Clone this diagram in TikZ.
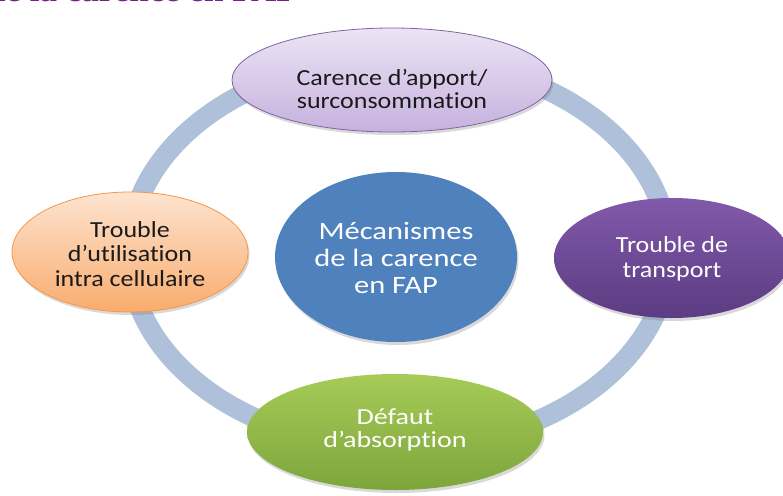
\documentclass[tikz,border=0pt]{standalone}
\usepackage{fontspec}
\setmainfont{Carlito}[Ligatures=CommonOff]
\newfontfamily\widefont[FakeStretch=1.13,Ligatures=CommonOff]{Carlito}
\newfontfamily\widerfont[FakeStretch=1.22,Ligatures=CommonOff]{Carlito}
\newfontfamily\titlefont{Liberation Serif}
\usetikzlibrary{shapes.geometric,shadows}
\definecolor{titlepurple}{HTML}{7A1E8C}
\definecolor{ringblue}{HTML}{AEC0DA}
\definecolor{lavtop}{HTML}{ECE4F5}
\definecolor{lavbot}{HTML}{C6B1DE}
\definecolor{lavedge}{HTML}{8064A2}
\definecolor{purtop}{HTML}{8159AA}
\definecolor{purbot}{HTML}{5C3C82}
\definecolor{peachtop}{HTML}{FDE4D0}
\definecolor{peachbot}{HTML}{F9AC6E}
\definecolor{peachedge}{HTML}{F79646}
\definecolor{greentop}{HTML}{A6CB57}
\definecolor{greenbot}{HTML}{7DA53B}
\definecolor{centreblue}{HTML}{4F81BD}
\definecolor{darktext}{HTML}{1A1A1A}
\begin{document}
\begin{tikzpicture}[x=1pt,y=-1pt,
  ring/.style={line width=20pt, draw=ringblue},
  bubble/.style={ellipse, inner sep=0pt,
    drop shadow={opacity=0.3, shadow xshift=1.5pt, shadow yshift=-3pt}},
  label text/.style={inner sep=0pt, align=center,
    font=\widefont\fontsize{23}{23.5}\selectfont},
]
\useasboundingbox (0,0) rectangle (783,495);
\clip (0,0) rectangle (783,495);
\node[anchor=base east, text=titlepurple, inner sep=0pt,
  font=\titlefont\bfseries\fontsize{35}{40}\selectfont] (title) at (298,1.2) {de la carence en FAP};
\draw[ring] (399,253) ellipse [x radius=270, y radius=195];
% shapes
\node[bubble, minimum width=242pt, minimum height=170pt, fill=centreblue] (centre) at (396,257) {};
\node[bubble, minimum width=320pt, minimum height=104pt, top color=lavtop,
  bottom color=lavbot, draw=lavedge, line width=0.8pt] (apport) at (392,80) {};
\node[bubble, minimum width=236pt, minimum height=120pt, top color=purtop,
  bottom color=purbot] (transport) at (672,258) {};
\node[bubble, minimum width=296pt, minimum height=116pt, top color=greentop,
  bottom color=greenbot] (absorption) at (395,432) {};
\node[bubble, minimum width=236pt, minimum height=120pt, top color=peachtop,
  bottom color=peachbot, draw=peachedge, line width=0.8pt] (utilisation) at (130,252) {};
% texts
\node[label text, text=white, font=\widerfont\fontsize{25}{26.7}\selectfont]
  (centre-t) at ([yshift=-1pt]centre.center) {Mécanismes\\de la carence\\en FAP};
\node[label text, text=darktext, font=\widefont\fontsize{23}{22.7}\selectfont]
  (apport-t) at ([yshift=-9pt]apport.center) {Carence d’apport/\\surconsommation};
\node[label text, text=white, font=\widefont\fontsize{23}{25}\selectfont]
  (transport-t) at ([yshift=-1pt]transport.center) {Trouble de\\transport};
\node[label text, text=white, font=\widerfont\fontsize{23}{23}\selectfont]
  (absorption-t) at ([yshift=2pt]absorption.center) {Défaut\\d’absorption};
\node[label text, text=darktext, font=\widefont\fontsize{23}{24.5}\selectfont]
  (utilisation-t) at ([yshift=-2pt]utilisation.center) {Trouble\\d’utilisation\\intra cellulaire};
\end{tikzpicture}
\end{document}
